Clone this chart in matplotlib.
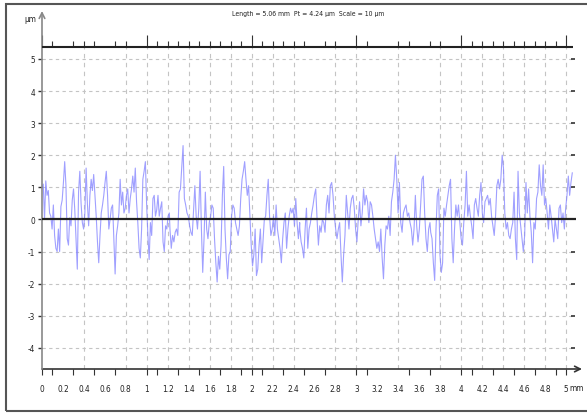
import numpy as np
import matplotlib
matplotlib.use("Agg")
import matplotlib.pyplot as plt
from matplotlib.patches import Rectangle
from matplotlib import font_manager as fm

# pick a narrow font if one is installed
_files = [f.fname for f in fm.fontManager.ttflist]
_names = {f.name for f in fm.fontManager.ttflist}
if 'Liberation Sans Narrow' in _names:
    plt.rcParams['font.family'] = ['Liberation Sans Narrow', 'DejaVu Sans']
    FS_SCALE = 1.0
elif any('DejaVuSansCondensed' in p for p in _files):
    plt.rcParams['font.family'] = ['DejaVu Sans']
    plt.rcParams['font.stretch'] = 'condensed'
    FS_SCALE = 0.92
else:
    plt.rcParams['font.family'] = ['Liberation Sans', 'DejaVu Sans']
    FS_SCALE = 0.9

# ---------------- data ----------------
title_text = "Length = 5.06 mm  Pt = 4.24 µm  Scale = 10 µm"
y_unit = "µm"
x_unit = "mm"

segment_start_mm = [0.0, 1.221, 2.46, 3.709]
segment_end_mm = [1.215, 2.459, 3.702, 5.06]

profile_seg1 = [1.0, 1.1, 0.0, 1.2, 0.75, 0.9, 0.2, 0.1, -0.3, 0.45, -0.5, -0.9, -1.0, -0.3, -1.0,
                0.4, 0.6, 1.15, 1.8, 1.05, -0.6, -0.8, 0.05, -0.2, 0.6, 0.95, 0.3, -0.6, -1.55, 0.85,
                1.5, 0.5, -0.1, -0.3, 0.2, 1.6, 0.5, -0.2, 0.75, 1.25, 0.9, 1.4, 0.75, 0.1, -0.7,
                -1.35, -0.5, 0.2, 0.45, 0.75, 1.15, 1.5, 0.75, -0.3, 0.0, 0.35, 0.45, -0.6, -1.7, -0.5,
                -0.2, 0.2, 1.25, 0.45, 0.85, 0.2, 0.35, 0.75, 0.95, 0.2, 0.65, 0.95, 1.35, 0.85, 1.6,
                0.55, -0.1, -0.9, -1.2, -0.3, 1.25, 1.5, 1.8, 0.45, -0.5, -1.25, -0.1, -0.5, 0.65, 0.75,
                0.1, 0.3, 0.75, 0.1, 0.35, 0.55, -0.7, -1.0, -0.2, -0.3, 0.1, 0.2]

profile_seg2 = [-0.3, -0.9, -0.5, -0.7, -0.4, -0.3, -0.5, 0.85, 0.95, 1.6, 2.3, 0.65, 0.45, 0.2, 0.1,
                -0.2, -0.4, -0.5, 0.3, 1.05, 0.1, -0.3, 0.35, 1.5, -0.3, -1.65, -0.6, 0.85, -0.3, -0.6,
                -0.1, 0.1, 0.45, 0.35, -0.6, -1.35, -1.95, -1.15, -1.55, -0.8, 0.75, 1.65, -0.3, -1.2, -1.85,
                -1.1, -1.0, 0.1, 0.45, 0.35, -0.1, -0.3, -0.5, -0.2, 0.65, 1.25, 1.5, 1.8, 1.25, 0.75,
                1.05, 0.1, -0.8, -1.45, -1.1, -0.3, -1.75, -1.55, -0.8, -0.3, -1.35, -0.7, 0.0, 0.1, 0.75,
                1.25, 0.1, -0.5, -0.3, 0.1, -0.5, 0.45, -0.3, -0.6, -0.9, -1.35, -0.6, -0.1, 0.2, -0.9,
                -0.3, 0.1, 0.35, 0.2, 0.35, -0.2, 0.65, -0.1, -0.6, -0.1]

profile_seg3 = [-0.3, -0.7, -0.9, -1.2, -0.3, 0.35, -0.9, -0.3, -0.1, 0.2, 0.45, 0.75, 0.95, 0.0, -0.8,
                -0.2, -0.4, 0.0, -0.1, -0.4, 0.45, 0.75, 0.2, 1.05, 1.15, 0.75, 0.1, -0.3, -0.6, -0.3,
                -0.1, -1.1, -1.95, -1.1, -0.5, 0.75, 0.2, -0.3, 0.35, 0.65, 0.75, 0.35, -0.3, -0.7, 0.0,
                0.55, -0.2, 0.2, 0.95, 0.45, 0.75, 0.55, -0.1, 0.55, 0.45, 0.1, -0.3, -0.6, -0.9, -0.7,
                -1.0, -0.3, -1.2, -1.85, -0.8, -0.2, -0.3, 0.1, -0.5, 0.55, 0.85, 1.25, 2.0, 1.25, 0.2,
                1.15, -0.1, -0.4, 0.2, 0.35, 0.45, 0.1, 0.2, -0.1, -0.3, -0.8, -0.3, 0.75, -0.2, -0.7,
                -0.3, 0.45, 1.25, 1.35, 0.2, -0.6, -1.0, -0.3, -0.1]

profile_seg4 = [-0.4, -0.6, -1.35, -1.9, -0.3, 0.75, 0.95, -1.1, -1.65, -1.35, 0.35, 0.1, 0.45, 0.75, 1.05,
                1.25, -0.6, -1.35, -0.3, 0.45, 0.1, 0.45, -0.1, -0.6, -0.8, -0.1, 0.45, 1.5, 0.1, 0.45,
                0.1, -0.2, -0.6, 0.45, 0.65, 0.35, 0.1, 0.75, 1.15, 0.2, -0.1, 0.55, 0.65, 0.75, 0.45,
                0.65, 0.1, -0.2, -0.5, 0.1, 1.05, 1.25, 0.95, 1.25, 2.0, 1.6, 0.2, -0.3, -0.1, -0.5,
                -0.6, -0.3, -0.1, 0.85, -0.6, -1.25, 1.5, 0.2, -0.2, -0.6, -1.0, -0.5, 1.15, 0.2, 0.95,
                0.1, -0.4, -1.35, -0.1, -0.3, 0.65, 0.85, 1.7, 1.05, 0.75, 1.7, 0.45, 0.65, 0.2, -0.3,
                0.45, 0.1, -0.3, -0.7, 0.0, -0.3, -0.6, 0.35, 0.45, -0.1, 0.2, -0.3, 0.35, 0.75, 1.35,
                0.75, 1.15, 1.45]

x_label_pos = [round(0.2 * i, 1) for i in range(26)]
x_label_text = ["0", "0.2", "0.4", "0.6", "0.8", "1", "1.2", "1.4", "1.6", "1.8", "2", "2.2", "2.4",
                "2.6", "2.8", "3", "3.2", "3.4", "3.6", "3.8", "4", "4.2", "4.4", "4.6", "4.8", "5"]
x_major_ticks = [0, 1, 2, 3, 4, 5]
x_minor_ticks = [0.1, 0.3, 0.4, 0.5, 0.7, 0.8, 1.1, 1.2, 1.3, 1.4, 1.5, 1.6, 1.7, 1.8, 1.9,
                 2.1, 2.2, 2.3, 2.4, 2.5, 2.7, 2.8, 3.1, 3.4, 3.5, 3.7, 3.8,
                 4.1, 4.2, 4.3, 4.4, 4.5, 4.6, 4.7, 4.8, 4.9]
x_grid = [0.4, 0.8, 1.0, 1.2, 1.4, 1.6, 1.8, 2.0, 2.2, 2.4, 2.8, 3.0, 3.4, 3.8,
          4.0, 4.2, 4.4, 4.6, 4.8, 5.0]
y_ticks = [-4, -3, -2, -1, 0, 1, 2, 3, 4, 5]

# ---------------- layout ----------------
W, H = 587, 414
fig = plt.figure(figsize=(W / 100, H / 100), dpi=100)
px_per_mm = 104.8
px_per_um = 32.1
ax_left, ax_right, ax_bottom, ax_top = 42, 582, 370, 12
ax = fig.add_axes([ax_left / W, (H - ax_bottom) / H, (ax_right - ax_left) / W, (ax_bottom - ax_top) / H])
xmax = (ax_right - ax_left) / px_per_mm
ymin = -4.66
ymax = ymin + (ax_bottom - ax_top) / px_per_um
ax.set_xlim(0, xmax)
ax.set_ylim(ymin, ymax)
for s in ax.spines.values():
    s.set_visible(False)
ax.patch.set_visible(False)

top_line_y = 5.36
line_end = 5.07
label_fs = 6.5 * FS_SCALE
title_fs = 5.4 * FS_SCALE

# grid
ax.hlines([t for t in y_ticks if t != 0], 0, line_end, colors='#c4c4c4', linestyles=(0, (3, 3)), lw=0.8, zorder=1)
ax.vlines(x_grid, ymin, top_line_y, colors='#c4c4c4', linestyles=(0, (4, 4)), lw=0.8, zorder=1)
ax.plot([line_end] * len(y_ticks), y_ticks, ls='none', marker='_', ms=3, mew=1.2, color='#333333', zorder=2)

# profile
xs = np.concatenate([np.linspace(a, b, len(v)) for a, b, v in
                     zip(segment_start_mm, segment_end_mm,
                         [profile_seg1, profile_seg2, profile_seg3, profile_seg4])])
ys = np.concatenate([profile_seg1, profile_seg2, profile_seg3, profile_seg4])
ax.plot(xs, ys, color='#8888ff', lw=0.8, alpha=0.8, zorder=3)

# zero line
ax.hlines(0, 0, 5.10, colors='#222222', lw=1.6, zorder=4)

# top line with ticks
ax.hlines(top_line_y, 0, line_end, colors='#222222', lw=1.5, zorder=4, clip_on=False)
ax.vlines(x_minor_ticks, top_line_y, top_line_y + 6 / px_per_um, colors='#333333', lw=0.8, clip_on=False)
ax.vlines(x_major_ticks, top_line_y, top_line_y + 12 / px_per_um, colors='#333333', lw=0.8, clip_on=False)

# axes lines with arrows
ax.annotate('', xy=(xmax, ymin), xytext=(0, ymin), xycoords='data',
            arrowprops=dict(arrowstyle='->', color='#333333', lw=1.2, shrinkA=0, shrinkB=0,
                            mutation_scale=10), annotation_clip=False)
ax.annotate('', xy=(0, ymax), xytext=(0, ymin), xycoords='data',
            arrowprops=dict(arrowstyle='->', color='#888888', lw=1.2, shrinkA=0, shrinkB=0,
                            mutation_scale=10), annotation_clip=False)

# bottom ticks
ax.set_xticks(x_label_pos)
ax.set_xticklabels(x_label_text)
ax.set_xticks(x_minor_ticks, minor=True)
ax.tick_params(axis='x', which='major', length=0, pad=11, labelsize=label_fs, labelcolor='#222222')
ax.tick_params(axis='x', which='minor', length=4, width=0.8, color='#333333', direction='out')
ax.vlines(x_major_ticks, ymin - 6 / px_per_um, ymin, colors='#333333', lw=0.8, clip_on=False)
ax.text(5.03, ymin - 19 / px_per_um, x_unit, fontsize=label_fs, color='#222222', ha='left', va='center')

# y ticks
ax.set_yticks(y_ticks)
ax.set_yticklabels([str(t) for t in y_ticks])
ax.tick_params(axis='y', which='major', length=3, width=1.0, color='#333333', pad=2, labelsize=label_fs,
               labelcolor='#222222')

# texts
fig.text(30 / W, 1 - 19 / H, y_unit, fontsize=label_fs, ha='center', va='center', color='#222222')
fig.text(308 / W, 1 - 14 / H, title_text, fontsize=title_fs, ha='center', va='center', color='#222222')

# frame
fig.patches.append(Rectangle((6 / W, 2 / H), 1.0, (407) / H, transform=fig.transFigure,
                             fill=False, edgecolor='#555555', lw=1.5))

fig.savefig('out.png', dpi=100)
